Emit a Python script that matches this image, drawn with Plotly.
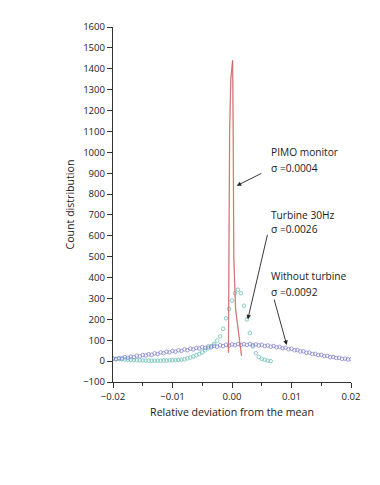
import plotly.graph_objects as go

# PIMO monitor (red line)
pimo_x = [-0.0006, -0.0005, -0.0004, -0.0002, 0.0000, 0.0001, 0.0002, 0.0003, 0.0006, 0.0011, 0.0016]
pimo_y = [40, 760, 1100, 1350, 1420, 1440, 1100, 500, 250, 130, 25]

# Turbine 30Hz (teal circles)
turb_x = [-0.0200, -0.0195, -0.0190, -0.0185, -0.0180, -0.0175, -0.0170, -0.0165, -0.0160, -0.0155,
          -0.0150, -0.0145, -0.0140, -0.0135, -0.0130, -0.0125, -0.0120, -0.0115, -0.0110, -0.0105,
          -0.0100, -0.0095, -0.0090, -0.0085, -0.0080, -0.0075, -0.0070, -0.0065, -0.0060, -0.0055,
          -0.0050, -0.0045, -0.0040, -0.0035, -0.0030, -0.0025, -0.0020, -0.0015, -0.0010, -0.0005,
          0.0000, 0.0005, 0.0010, 0.0015, 0.0020, 0.0025, 0.0030, 0.0035, 0.0040, 0.0045,
          0.0050, 0.0055, 0.0060, 0.0065]
turb_y = [12, 11, 10, 9, 8, 7, 6, 5, 4, 4,
          3, 3, 2, 2, 2, 2, 2, 3, 3, 4,
          4, 5, 6, 7, 9, 13, 17, 22, 28, 34,
          42, 52, 62, 72, 82, 98, 118, 155, 205, 250,
          290, 325, 342, 325, 265, 200, 135, 70, 38, 20,
          11, 6, 2, 0]

# Without turbine (blue circles)
free_x = [-0.0200, -0.0195, -0.0190, -0.0185, -0.0180, -0.0175, -0.0170, -0.0165, -0.0160, -0.0155,
          -0.0150, -0.0145, -0.0140, -0.0135, -0.0130, -0.0125, -0.0120, -0.0115, -0.0110, -0.0105,
          -0.0100, -0.0095, -0.0090, -0.0085, -0.0080, -0.0075, -0.0070, -0.0065, -0.0060, -0.0055,
          -0.0050, -0.0045, -0.0040, -0.0035, -0.0030, -0.0025, -0.0020, -0.0015, -0.0010, -0.0005,
          0.0000, 0.0005, 0.0010, 0.0015, 0.0020, 0.0025, 0.0030, 0.0035, 0.0040, 0.0045,
          0.0050, 0.0055, 0.0060, 0.0065, 0.0070, 0.0075, 0.0080, 0.0085, 0.0090, 0.0095,
          0.0100, 0.0105, 0.0110, 0.0115, 0.0120, 0.0125, 0.0130, 0.0135, 0.0140, 0.0145,
          0.0150, 0.0155, 0.0160, 0.0165, 0.0170, 0.0175, 0.0180, 0.0185, 0.0190, 0.0195,
          0.0200]
free_y = [12, 9, 15, 13, 19, 16, 22, 19, 26, 23,
          29, 27, 33, 30, 37, 34, 42, 38, 45, 42,
          49, 45, 52, 49, 56, 52, 60, 56, 63, 60,
          67, 63, 70, 66, 73, 69, 76, 72, 78, 74,
          80, 76, 82, 77, 81, 78, 82, 76, 80, 75,
          78, 72, 75, 69, 72, 66, 68, 62, 64, 57,
          59, 52, 53, 46, 47, 40, 41, 34, 35, 29,
          30, 24, 25, 19, 20, 15, 16, 11, 12, 8,
          9]

x_ticks = [-0.02, -0.01, 0.00, 0.01, 0.02]

font = dict(family="Open Sans, Liberation Sans, sans-serif", size=9.6, color="#1a1a1a")

fig = go.Figure()
fig.add_trace(go.Scatter(x=turb_x, y=turb_y, mode="markers",
                         marker=dict(symbol="circle-open", size=3.6, color="rgba(100,190,180,0.85)",
                                     line=dict(width=0.9))))
fig.add_trace(go.Scatter(x=free_x, y=free_y, mode="markers",
                         marker=dict(symbol="circle-open", size=3.6, color="rgba(130,130,210,0.85)",
                                     line=dict(width=0.9))))
fig.add_trace(go.Scatter(x=pimo_x, y=pimo_y, mode="lines",
                         line=dict(color="rgba(225,140,140,0.75)", width=1.3)))
fig.add_trace(go.Scatter(x=pimo_x, y=pimo_y, mode="lines",
                         line=dict(color="#b84040", width=0.5)))

# labels and arrows
labels = [
    (0.0062, 1001, "PIMO monitor"), (0.0062, 925, "σ =0.0004"),
    (0.0062, 702, "Turbine 30Hz"), (0.0062, 631, "σ =0.0026"),
    (0.0062, 409, "Without turbine"), (0.0062, 333, "σ =0.0092"),
]
for lx, ly, txt in labels:
    fig.add_annotation(x=lx, y=ly, text=txt, showarrow=False, xanchor="left",
                       yanchor="middle", font=dict(font, size=10.2))

arrows = [(0.0008, 840, 26, -13), (0.00265, 200, 20, -86), (0.0092, 77, -13, -47)]
for axx, axy, dx, dy in arrows:
    fig.add_annotation(x=axx, y=axy, ax=dx, ay=dy, text="", showarrow=True,
                       arrowhead=2, arrowsize=1, arrowwidth=0.9, arrowcolor="#222")

# page body adds an 8px offset, so the figure is sized to fit the window
fig.update_layout(
    width=372, height=477, showlegend=False,
    paper_bgcolor="white", plot_bgcolor="white",
    margin=dict(l=105, r=29, t=15, b=103),
    font=font,
)
fig.update_xaxes(range=[-0.02, 0.02], tickvals=x_ticks, tickformat=".2f",
                 showgrid=False, zeroline=False, showline=True, linecolor="#333",
                 linewidth=1, ticks="outside", ticklen=5, tickcolor="#333",
                 minor=dict(dtick=0.005, ticks="outside", ticklen=3, tickcolor="#333"),
                 title=dict(text="Relative deviation from the mean", standoff=7,
                            font=dict(font, size=10.6)))
fig.update_yaxes(range=[-100, 1600], dtick=100, showgrid=False, zeroline=False,
                 showline=True, linecolor="#333", linewidth=1, ticks="outside",
                 ticklen=5, tickcolor="#333",
                 title=dict(text="Count distribution", standoff=6,
                            font=dict(font, size=10.6)))

fig.write_html("out.html")
